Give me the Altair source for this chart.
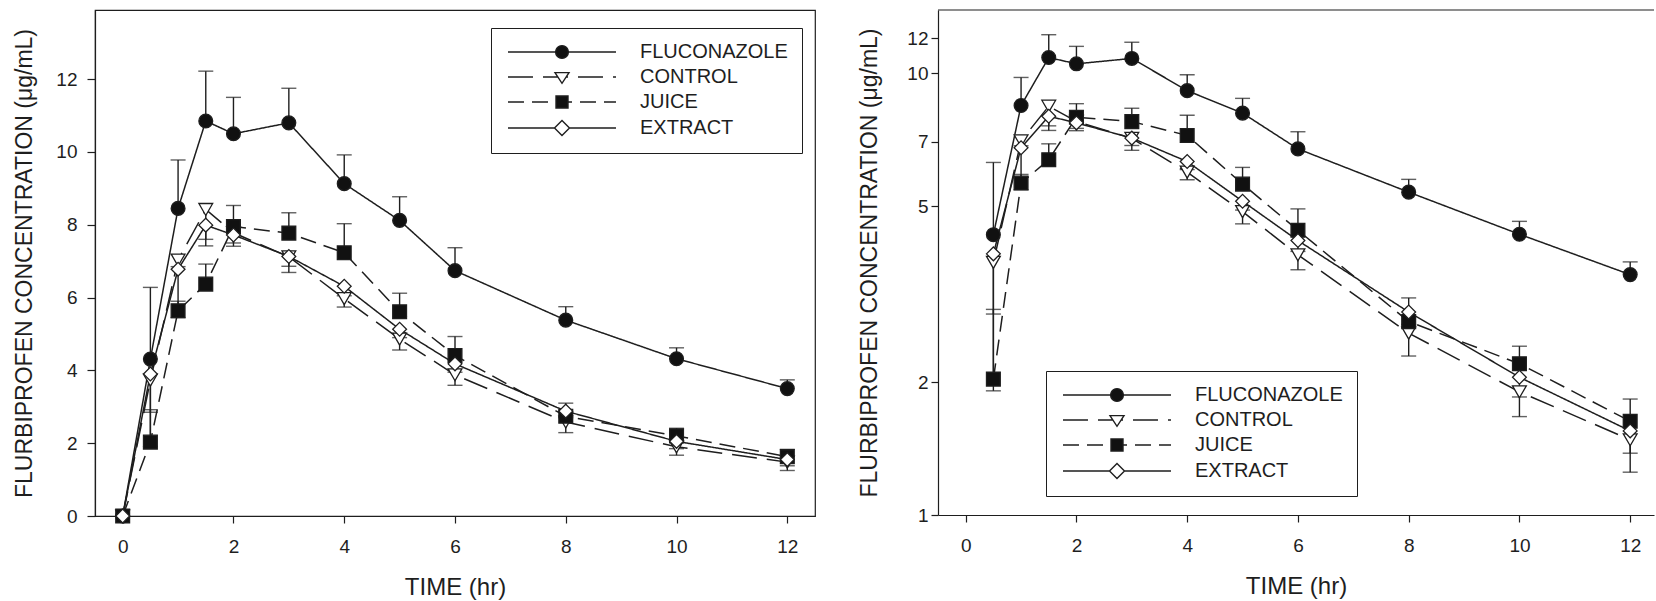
import altair as alt
import pandas as pd

# ---- data ----
times = [0, 0.5, 1, 1.5, 2, 3, 4, 5, 6, 8, 10, 12]
series_names = ["FLUCONAZOLE", "CONTROL", "JUICE", "EXTRACT"]

fluconazole = [0, 4.31, 8.45, 10.85, 10.50, 10.80, 9.13, 8.12, 6.74, 5.38, 4.32, 3.50]
control = [0, 3.73, 7.03, 8.42, 7.78, 7.12, 5.97, 4.86, 3.88, 2.58, 1.90, 1.48]
juice = [0, 2.03, 5.64, 6.37, 7.95, 7.77, 7.23, 5.61, 4.41, 2.74, 2.20, 1.63]
extract = [0, 3.90, 6.78, 7.99, 7.72, 7.13, 6.31, 5.13, 4.18, 2.88, 2.05, 1.55]

# end points of the one-sided error bars (None = no bar)
fluconazole_err = [None, 6.28, 9.78, 12.22, 11.50, 11.75, 9.92, 8.77, 7.37, 5.75, 4.62, 3.74]
control_err = [None, 2.85, 6.85, 7.42, 7.41, 6.69, 5.74, 4.56, 3.59, 2.29, 1.67, 1.25]
juice_err = [None, 2.92, 5.90, 6.92, 8.53, 8.33, 8.03, 6.12, 4.93, 3.10, 2.41, 1.83]
extract_err = [None, 1.91, 5.45, 7.60, 7.50, 6.86, 6.05, 4.90, 3.95, 2.70, 1.85, 1.38]

x_ticks = [0, 2, 4, 6, 8, 10, 12]
lin_ticks = [0, 2, 4, 6, 8, 10, 12]
log_ticks = [1, 2, 5, 7, 10, 12]

rows = []
for name, vals, errs in zip(series_names,
                            [fluconazole, control, juice, extract],
                            [fluconazole_err, control_err, juice_err, extract_err]):
    for t, v, e in zip(times, vals, errs):
        rows.append({"t": t, "conc": v, "err": e, "Series": name})
df = pd.DataFrame(rows)
df_err = df.dropna(subset=["err"])
df_log = df[df["t"] > 0]
df_log_err = df_err[df_err["t"] > 0]
legend_df = pd.DataFrame({"Series": series_names})

FONT = "Liberation Sans"
INK = "#1e1e1e"
YTITLE = "FLURBIPROFEN CONCENTRATION (\u03bcg/mL)"

dash_patterns = [[1, 0], [25, 10], [16, 8], [1, 0]]
dash_scale = alt.Scale(domain=series_names, range=dash_patterns)
shape_scale = alt.Scale(domain=series_names, range=["circle", "triangle-down", "square", "diamond"])
fill_scale = alt.Scale(domain=series_names, range=["#111111", "white", "#111111", "white"])

# ---- legend key glyphs: a line (with its dash pattern) through the marker ----
UNIT = 7.0          # px per path unit (symbol size 196 -> sqrt/2 = 7)
HALF = 54.0 / UNIT  # half length of the key line
marker_paths = [
    ("M -0.914 0 A 0.914 0.914 0 1 0 0.914 0 A 0.914 0.914 0 1 0 -0.914 0 Z", 0.914),
    ("M -1.0 -0.62 L 1.0 -0.62 L 0 0.9 Z", 0.59),
    ("M -0.857 -0.857 L 0.857 -0.857 L 0.857 0.857 L -0.857 0.857 Z", 0.857),
    ("M -1.07 0 L 0 -1.07 L 1.07 0 L 0 1.07 Z", 1.07),
]


def key_path(pattern, marker, cut):
    dash, gap = pattern
    if gap == 0:
        dash = 2 * HALF * UNIT
    dash, gap = dash / UNIT, gap / UNIT
    parts = []
    x = -HALF
    while x < HALF:
        x2 = min(x + dash, HALF)
        for a, b in ((x, min(x2, -cut)), (max(x, cut), x2)):
            if b - a > 0.02:
                parts.append(f"M {a:.3f} 0 L {b:.3f} 0")
        x = x2 + gap
    return " ".join(parts) + " " + marker


key_scale = alt.Scale(domain=series_names,
                      range=[key_path(p, m, c) for p, (m, c) in zip(dash_patterns, marker_paths)])


def panel(data, err_data, y_scale, y_axis, width, height, x_max, lx, ly, frame_top):
    x_enc = alt.X("t:Q", scale=alt.Scale(domain=[-0.5, x_max], nice=False, zero=False),
                  axis=alt.Axis(values=x_ticks, title="TIME (hr)", tickSize=7, labelPadding=14,
                                titlePadding=19, titleFontSize=24, labelFlush=False))
    y_enc = alt.Y("conc:Q", scale=y_scale, axis=y_axis)
    key_legend = alt.Legend(title=None, orient="none", legendX=lx, legendY=ly,
                            symbolSize=196, symbolStrokeWidth=1.4, symbolOffset=47,
                            labelFont=FONT, labelFontSize=20, labelColor=INK,
                            labelOffset=68, labelLimit=0, padding=14, rowPadding=5,
                            strokeColor=INK)
    lines = alt.Chart(data).mark_line(color=INK, strokeWidth=1.5).encode(
        x=x_enc, y=y_enc,
        strokeDash=alt.StrokeDash("Series:N", scale=dash_scale, legend=None),
        order="t:Q")
    bars = alt.Chart(err_data).mark_rule(color=INK, strokeWidth=1.4).encode(
        x=x_enc, y=y_enc, y2="err:Q")
    caps = alt.Chart(err_data).mark_tick(color=INK, thickness=1.4, size=15,
                                         orient="horizontal").encode(
        x=x_enc, y=alt.Y("err:Q", scale=y_scale, axis=y_axis))
    points = alt.Chart(data).mark_point(filled=False, opacity=1, stroke=INK,
                                        strokeWidth=1.3, size=190).encode(
        x=x_enc, y=y_enc,
        shape=alt.Shape("Series:N", scale=shape_scale, legend=None),
        fill=alt.Fill("Series:N", scale=fill_scale, legend=None))
    # legend-only layer: its rows are filtered out, only its legend is drawn
    keys = alt.Chart(legend_df).transform_filter("false").mark_point(
        filled=False, opacity=1, stroke=INK, strokeWidth=1.4, size=196).encode(
        shape=alt.Shape("Series:N", scale=key_scale, legend=key_legend),
        fill=alt.Fill("Series:N", scale=fill_scale, legend=key_legend))
    layers = [lines, bars, caps, points, keys]
    if frame_top:
        top = alt.Chart(pd.DataFrame({"k": [0]})).mark_rule(color=INK, strokeWidth=1.2).encode(
            x=alt.value(0), x2=alt.value(width), y=alt.value(0))
        layers.append(top)
    ch = alt.layer(*layers).resolve_scale(shape="independent", fill="independent").properties(
        width=width, height=height)
    if frame_top:
        ch = ch.properties(view=alt.ViewBackground(stroke="transparent"))
    return ch


left = panel(df, df_err,
             alt.Scale(domain=[0, 13.9], nice=False, zero=True),
             alt.Axis(values=lin_ticks, title=YTITLE, tickSize=8, labelPadding=10,
                      titlePadding=19, labelFlush=False),
             720, 506, 12.5, 396, 18, False)

right = panel(df_log, df_log_err,
              alt.Scale(type="log", domain=[1, 13.9], nice=False),
              alt.Axis(values=log_ticks, title=YTITLE, tickSize=7, labelPadding=3,
                       titlePadding=25, labelFlush=False, format="d"),
              716, 505, 12.43, 108, 361, True)

chart = alt.hconcat(left, right, spacing=42).properties(
    padding={"left": 13, "top": 8, "right": 0, "bottom": 0},
    background="white",
).configure_view(stroke=INK, strokeWidth=1.2).configure_axis(
    grid=False, domainColor=INK, domainWidth=1.2, tickColor=INK, tickWidth=1.2,
    labelFont=FONT, labelFontSize=19, labelColor=INK, titleFont=FONT, titleFontSize=23,
    titleFontWeight="normal", titleColor=INK, labelOverlap=False
)

chart.save("out.html", embed_options={"renderer": "svg", "actions": False})
